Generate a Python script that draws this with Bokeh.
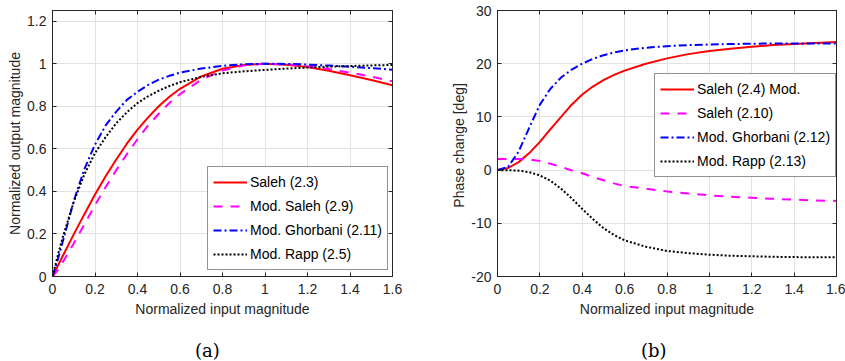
from bokeh.plotting import figure
from bokeh.layouts import row, column
from bokeh.models import (FixedTicker, LinearAxis, Range1d, Legend, LegendItem,
                          Div, CustomJSTickFormatter)
from bokeh.embed import file_html
from bokeh.resources import INLINE

# ---------------- data: panel (a) AM/AM ----------------
xa = [0, 0.025, 0.05, 0.1, 0.15, 0.2, 0.25, 0.3, 0.35, 0.4, 0.45, 0.5, 0.55, 0.6,
      0.7, 0.8, 0.9, 1.0, 1.1, 1.2, 1.3, 1.4, 1.5, 1.6]
saleh_a = [0, 0.05, 0.0998, 0.198, 0.293, 0.385, 0.471, 0.550, 0.624, 0.690, 0.748,
           0.800, 0.845, 0.882, 0.940, 0.976, 0.994, 1.0, 0.9955, 0.984, 0.967,
           0.946, 0.923, 0.899]
mod_saleh_a = [0, 0.03, 0.07, 0.155, 0.245, 0.335, 0.42, 0.50, 0.575, 0.645, 0.71,
               0.765, 0.815, 0.857, 0.925, 0.968, 0.992, 1.0, 0.997, 0.988, 0.975,
               0.958, 0.94, 0.917]
ghorbani_a = [0, 0.08, 0.17, 0.355, 0.505, 0.62, 0.71, 0.775, 0.83, 0.868, 0.9,
              0.925, 0.943, 0.958, 0.977, 0.99, 0.997, 1.0, 0.999, 0.996, 0.991,
              0.986, 0.979, 0.972]
rapp_a = [0, 0.1, 0.19, 0.35, 0.48, 0.58, 0.655, 0.72, 0.772, 0.815, 0.847, 0.873,
          0.895, 0.913, 0.938, 0.955, 0.964, 0.971, 0.977, 0.982, 0.986, 0.989,
          0.992, 0.994]
labels_a = ["Saleh (2.3)", "Mod. Saleh (2.9)", "Mod. Ghorbani (2.11)", "Mod. Rapp (2.5)"]

# ---------------- data: panel (b) AM/PM ----------------
xb = [0, 0.05, 0.1, 0.15, 0.2, 0.25, 0.3, 0.35, 0.4, 0.45, 0.5, 0.55, 0.6, 0.7, 0.8,
      0.9, 1.0, 1.1, 1.2, 1.3, 1.4, 1.5, 1.6]
saleh_b = [0, 0.4, 1.5, 3.2, 5.3, 7.7, 10.0, 12.3, 14.2, 15.7, 16.9, 17.9, 18.7, 20.0,
           21.0, 21.8, 22.4, 22.8, 23.2, 23.5, 23.7, 23.9, 24.1]
mod_saleh_b = [2.1, 2.1, 2.1, 2.0, 1.7, 1.2, 0.6, -0.05, -0.6, -1.3, -1.9, -2.5, -3.0,
               -3.5, -4.0, -4.4, -4.75, -5.0, -5.2, -5.4, -5.55, -5.7, -5.8]
ghorbani_b = [0, 0.6, 3.5, 8.0, 12.3, 15.3, 17.4, 18.9, 20.0, 20.9, 21.6, 22.1, 22.5,
              23.0, 23.3, 23.5, 23.6, 23.7, 23.75, 23.8, 23.8, 23.8, 23.8]
rapp_b = [0, -0.02, -0.1, -0.4, -1.0, -2.0, -3.5, -5.3, -7.3, -9.2, -10.9, -12.2,
          -13.2, -14.4, -15.2, -15.6, -15.9, -16.1, -16.2, -16.3, -16.35, -16.4, -16.4]
labels_b = ["Saleh (2.4) Mod.", "Saleh (2.10)", "Mod. Ghorbani (2.12)", "Mod. Rapp (2.13)"]

xticks = [0, 0.2, 0.4, 0.6, 0.8, 1, 1.2, 1.4, 1.6]
yticks_a = [0, 0.2, 0.4, 0.6, 0.8, 1, 1.2]
yticks_b = [-20, -10, 0, 10, 20, 30]

FONT = "Liberation Sans"
TXT = "#262626"
FS = "14px"
fmt = "return tick.toString();"
empty = "return '';"

styles = [
    dict(color="#ff0000", line_width=2),
    dict(color="#ff00ff", line_width=2, line_dash="9 8"),
    dict(color="#0000ff", line_width=2, line_dash="8 3 2 3"),
    dict(color="#000000", line_width=2, line_dash="2 2"),
]

FIG_H = 330
DIV_H = 361 - FIG_H


def make_fig(width, left, right, yr, yticks, ylabel, xs, series, labels, loc):
    p = figure(width=width, height=FIG_H, x_range=Range1d(0, 1.6), y_range=Range1d(*yr),
               output_backend="svg", toolbar_location=None,
               min_border_left=left, min_border_right=right,
               min_border_top=10, min_border_bottom=FIG_H - 276)
    p.outline_line_color = TXT
    p.outline_line_width = 1
    p.background_fill_color = "white"
    for ax, ticks in ((p.xaxis[0], xticks), (p.yaxis[0], yticks)):
        ax.ticker = FixedTicker(ticks=ticks)
        ax.formatter = CustomJSTickFormatter(code=fmt)
        ax.major_tick_in = 4
        ax.major_tick_out = 0
        ax.minor_tick_line_color = None
        ax.axis_line_color = TXT
        ax.major_tick_line_color = TXT
        ax.major_label_text_font = FONT
        ax.major_label_text_font_size = FS
        ax.major_label_text_color = TXT
        ax.axis_label_text_font = FONT
        ax.axis_label_text_font_size = FS
        ax.axis_label_text_color = TXT
        ax.axis_label_text_font_style = "normal"
    p.xaxis[0].axis_label = "Normalized input magnitude"
    p.xaxis[0].major_label_standoff = 7
    p.xaxis[0].axis_label_standoff = 4
    p.yaxis[0].axis_label = ylabel
    p.yaxis[0].major_label_standoff = 6
    p.yaxis[0].axis_label_standoff = 1
    for place, ticks in (("right", yticks), ("above", xticks)):
        ax = LinearAxis(ticker=FixedTicker(ticks=ticks),
                        formatter=CustomJSTickFormatter(code=empty),
                        major_tick_in=4, major_tick_out=0, minor_tick_line_color=None,
                        axis_line_color=TXT, major_tick_line_color=TXT,
                        major_label_standoff=0, major_label_text_font_size="1px")
        p.add_layout(ax, place)
    p.xgrid.ticker = FixedTicker(ticks=xticks)
    p.ygrid.ticker = FixedTicker(ticks=yticks)
    p.xgrid.grid_line_color = "#e2e2e2"
    p.ygrid.grid_line_color = "#e2e2e2"

    items = []
    for ys, st, lab in zip(series, styles, labels):
        r = p.line(xs, ys, **st)
        items.append(LegendItem(label=lab, renderers=[r]))
    leg = Legend(items=items, location=loc, label_text_font=FONT,
                 label_text_font_size=FS, label_text_color="black",
                 glyph_width=34, glyph_height=20, label_height=20,
                 label_standoff=3, spacing=4, padding=5, margin=0,
                 border_line_color=TXT, border_line_width=1,
                 background_fill_color="white", background_fill_alpha=1)
    p.add_layout(leg)
    return p


def make_tag(width, tag, left_pad):
    html = ('<div style="padding-left:%dpx; padding-top:12px; font-family:\'DejaVu Serif\';'
            ' font-size:18px; line-height:18px; color:black; white-space:nowrap;">%s</div>'
            % (left_pad, tag))
    return Div(text=html, width=width, height=DIV_H, margin=0)


pa = make_fig(422, 52, 30, (0, 1.25), yticks_a, "Normalized output magnitude", xa,
              [saleh_a, mod_saleh_a, ghorbani_a, rapp_a], labels_a, (155, 6))
pb = make_fig(423, 75, 9, (-20, 30), yticks_b, "Phase change  [deg]", xb,
              [saleh_b, mod_saleh_b, ghorbani_b, rapp_b], labels_b, (157, 99))

layout = column(row(pa, pb), row(make_tag(422, "(a)", 195), make_tag(423, "(b)", 219)))
open("out.html", "w").write(file_html(layout, INLINE))
